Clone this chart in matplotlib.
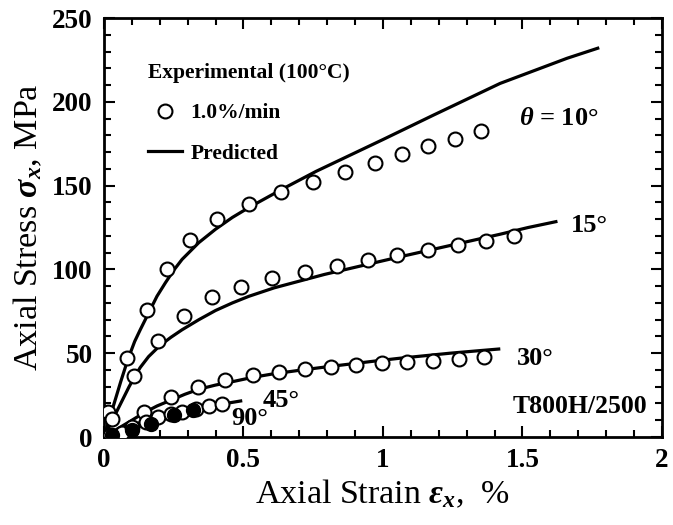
import numpy as np
import matplotlib.pyplot as plt

plt.rcParams['font.family'] = ['Liberation Serif', 'DejaVu Serif']
plt.rcParams['font.weight'] = 'bold'
plt.rcParams['mathtext.fontset'] = 'custom'
plt.rcParams['mathtext.rm'] = 'Liberation Serif:bold'
plt.rcParams['mathtext.it'] = 'Liberation Serif:italic:bold'

# experimental data (1.0%/min, 100C)
x10 = [0.015, 0.083, 0.154, 0.226, 0.309, 0.406, 0.521, 0.636, 0.75, 0.865, 0.97, 1.07, 1.163, 1.257, 1.35]
y10 = [15, 47, 76, 100, 117.5, 130, 139, 146, 152, 158, 163.5, 169, 173.5, 178, 182.5]

x15 = [0.03, 0.108, 0.194, 0.287, 0.388, 0.492, 0.603, 0.722, 0.837, 0.948, 1.052, 1.16, 1.268, 1.368, 1.469]
y15 = [11, 36.4, 57, 72, 83.5, 89.5, 95, 98.4, 102, 105.6, 108.6, 111.6, 114.6, 117, 120]

x30 = [0.144, 0.24, 0.338, 0.434, 0.535, 0.628, 0.722, 0.815, 0.905, 0.998, 1.088, 1.178, 1.271, 1.364]
y30 = [15, 24, 30, 34, 37, 39, 40.6, 41.8, 43, 44, 45, 45.5, 46.5, 47.5]

x45 = [0.02, 0.065, 0.1, 0.15, 0.194, 0.24, 0.28, 0.33, 0.377, 0.424]
y45 = [1, 2.5, 6, 9, 12, 13.7, 15, 17, 18.5, 19.7]

x90 = [0.03, 0.1, 0.17, 0.25, 0.32]
y90 = [1, 4, 8, 13, 16]

# predicted curves
px10 = [0, 0.03, 0.06, 0.085, 0.11, 0.13, 0.16, 0.19, 0.22, 0.25, 0.28, 0.34, 0.4, 0.46, 0.52,
        0.58, 0.64, 0.76, 0.88, 1.0, 1.18, 1.42, 1.66, 1.77]
py10 = [0, 16.5, 33, 46, 57, 64, 74, 84, 92, 99.5, 106, 116, 124, 131, 137,
        142.5, 148, 158.5, 168, 177.5, 192, 211, 226, 232]

px15 = [0, 0.03, 0.06, 0.09, 0.11, 0.13, 0.16, 0.2, 0.24, 0.28, 0.34, 0.4, 0.46, 0.52, 0.61,
        0.7, 0.79, 0.88, 0.97, 1.06, 1.18, 1.3, 1.42, 1.52, 1.62]
py15 = [0, 10, 20, 30, 36, 41.5, 48, 54.5, 59.5, 64, 70, 75.5, 80, 84, 89,
        93, 97, 100.5, 104, 107.5, 112, 116.5, 121, 125, 128.5]

px30 = [0, 0.05, 0.1, 0.144, 0.19, 0.24, 0.29, 0.34, 0.4, 0.46, 0.53, 0.6, 0.7, 0.79, 0.88,
        0.97, 1.06, 1.15, 1.24, 1.33, 1.415]
py30 = [0, 5, 10, 14.5, 18.5, 22, 25.5, 28.5, 31, 33, 35.5, 37.5, 39.8, 41.7, 43.5,
        45.3, 47, 48.5, 50, 51.3, 52.5]

px45 = [0, 0.05, 0.1, 0.2, 0.3, 0.4, 0.49]
py45 = [0, 3.5, 7, 12.5, 16, 19, 21.5]

px90 = [0, 0.1, 0.2, 0.33]
py90 = [0, 5, 10, 15.5]

fig = plt.figure(figsize=(6.73, 5.25), dpi=100)
ax = fig.add_axes([0.1545, 0.1676, 0.829, 0.798])

lw = 2.3
mk = dict(ls='none', marker='o', ms=10, mfc='white', mec='black', mew=1.5, zorder=3)
for xs, ys in [(px10, py10), (px15, py15), (px30, py30), (px45, py45), (px90, py90)]:
    ax.plot(xs, ys, color='black', lw=lw, zorder=2)
h_exp, = ax.plot(x10, y10, **mk)
ax.plot(x15, y15, **mk)
ax.plot(x30, y30, **mk)
ax.plot(x45, y45, **mk)
ax.plot(x90, y90, ls='none', marker='o', ms=10, mfc='black', mec='black', zorder=4)
h_line, = ax.plot([], [], color='black', lw=lw)

leg = ax.legend([h_exp, h_line], ['1.0%/min', 'Predicted'], title='Experimental (100°C)',
                loc='upper left', bbox_to_anchor=(0.045, 0.94), frameon=False,
                fontsize=15.5, title_fontsize=15.5, alignment='left',
                handlelength=1.55, handletextpad=0.4, labelspacing=0.95)
leg.get_title().set_fontweight('bold')

ax.text(1.487, 190, r'$\theta$ = 10°', fontsize=19, va='center')
ax.text(1.673, 126, '15°', fontsize=19, va='center')
ax.text(1.479, 47, '30°', fontsize=19, va='center')
ax.text(0.567, 22, '45°', fontsize=19, va='center')
ax.text(0.456, 11, '90°', fontsize=19, va='center')
ax.text(1.946, 18, 'T800H/2500', fontsize=18.5, ha='right', va='center')

ax.set_xlim(0, 2)
ax.set_ylim(0, 250)
ax.set_xticks([0, 0.5, 1, 1.5, 2])
ax.set_xticklabels(['0', '0.5', '1', '1.5', '2'])
ax.set_yticks([0, 50, 100, 150, 200, 250])
ax.set_xticks(np.arange(0, 2.01, 0.1), minor=True)
ax.set_yticks(np.arange(0, 251, 10), minor=True)
ax.tick_params(which='both', direction='in', top=True, right=True, width=1.5)
ax.tick_params(which='major', length=8, labelsize=19.5, pad=8)
ax.tick_params(which='minor', length=5)
for s in ax.spines.values():
    s.set_linewidth(2)

ax.set_xlabel(r'Axial Strain $\varepsilon_x$,  %', fontsize=24.5, fontweight='normal', labelpad=3)
ax.set_ylabel(r'Axial Stress $\sigma_x$, MPa', fontsize=24.5, fontweight='normal', labelpad=6)

fig.savefig('out.png', dpi=100)
